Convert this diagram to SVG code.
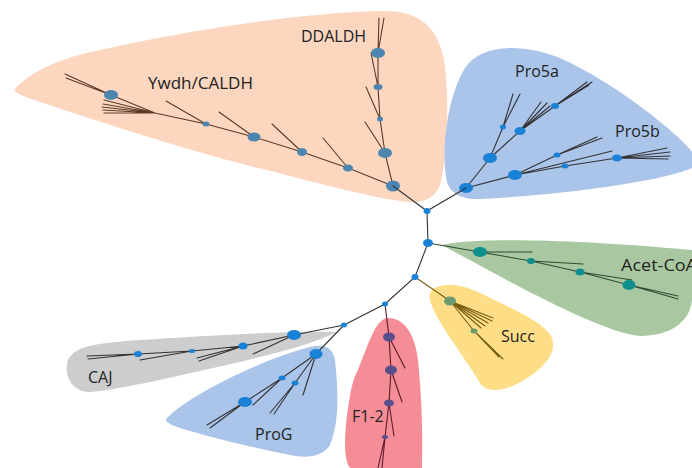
<svg xmlns="http://www.w3.org/2000/svg" width="692" height="468" viewBox="0 0 692 468">
<style>
text{font-family:"Open Sans","Liberation Sans",sans-serif;font-size:16px;fill:#222}
.br{fill:none;stroke:#333;stroke-width:1.1;stroke-linecap:round}
.bo{stroke:#5b3a28}
.by{stroke:#7a5c12}
.bg{stroke:#2e4a34}
.bred{stroke:#5e1a2a}
.nb{fill:#1a82d6}
.no{fill:#4a86b0}
.nt{fill:#0f8e8e}
.ns{fill:#6b9a72}
.np{fill:#574f8c}
</style>
<rect width="692" height="468" fill="#fff"/>
<g id="clade-ywdh-ddaldh">
<path d="M15 89 C30 72 60 58 100 50 C180 32 300 12 385 11 C420 11 438 28 444 60 C450 100 447 160 440 185 C435 198 425 203 408 202 C370 198 320 183 250 166 C180 148 100 122 40 102 C22 96 12 92 15 89 Z" fill="#fcd6bf"/>
<path class="br bo" d="M393 186 L348 168 L302 152 L254 137 L206 124 L155 113 L111 95 L65 74 M111 95 L66 78 M155 113 L104 100 M155 113 L103 104 M155 113 L102 107 M155 113 L103 110 M155 113 L104 113 M348 168 L323 138 M302 152 L272 124 M254 137 L219 112 M206 124 L166 101 M393 186 L385 153 L380 119 L378 87 L378 53 L379 18 M378 53 L384 18 M385 153 L365 122 M380 119 L366 87 M378 87 L371 53"/>
<ellipse class="no" cx="393" cy="186" rx="7" ry="5.5"/>
<ellipse class="no" cx="348" cy="168" rx="5" ry="3.5"/>
<ellipse class="no" cx="302" cy="152" rx="5" ry="4"/>
<ellipse class="no" cx="254" cy="137" rx="6.5" ry="4.5"/>
<ellipse class="no" cx="206" cy="124" rx="3.5" ry="2.5"/>
<ellipse class="no" cx="111" cy="95" rx="7" ry="5"/>
<ellipse class="no" cx="385" cy="153" rx="7" ry="5"/>
<ellipse class="no" cx="380" cy="119" rx="3" ry="2.5"/>
<ellipse class="no" cx="378" cy="87" rx="4.5" ry="3"/>
<ellipse class="no" cx="378" cy="53" rx="7" ry="5"/>
<text x="301" y="42">DDALDH</text>
<text x="148" y="89" textLength="105" lengthAdjust="spacingAndGlyphs">Ywdh/CALDH</text>
</g>
<g id="clade-pro5">
<path d="M447 182 C440 150 448 95 465 68 C480 45 520 42 560 58 C610 80 675 130 692 152 L692 168 C660 182 560 195 480 199 C460 200 450 192 447 182 Z" fill="#abc4e9"/>
<path class="br" d="M466 188 L490 158 L503 127 L513 94 M503 127 L520 94 M490 158 L520 131 L541 102 M520 131 L547 103 M520 131 L550 106 M520 131 L555 106 L587 82 M555 106 L592 82 M555 106 L589 85 M466 188 L515 175 L557 155 L597 137 M557 155 L602 138 M515 175 L612 151 M515 175 L565 166 L617 158 L667 148 M617 158 L670 152 M617 158 L670 156 M617 158 L668 159"/>
<ellipse class="nb" cx="466" cy="188" rx="7" ry="5"/>
<ellipse class="nb" cx="490" cy="158" rx="7" ry="5"/>
<ellipse class="nb" cx="503" cy="127" rx="3" ry="2.5"/>
<ellipse class="nb" cx="520" cy="131" rx="5.5" ry="4"/>
<ellipse class="nb" cx="555" cy="106" rx="4" ry="3"/>
<ellipse class="nb" cx="515" cy="175" rx="7" ry="5"/>
<ellipse class="nb" cx="557" cy="155" rx="3.5" ry="2.5"/>
<ellipse class="nb" cx="565" cy="166" rx="3.5" ry="2.5"/>
<ellipse class="nb" cx="617" cy="158" rx="5" ry="3.5"/>
<text x="515" y="77">Pro5a</text>
<text x="615" y="137">Pro5b</text>
</g>
<g id="clade-acet-coa">
<path d="M442 245 C470 238 560 238 692 250 L692 300 C690 322 670 336 640 336 C600 332 510 282 442 245 Z" fill="#a9c8a1"/>
<path class="br bg" d="M428 243 L480 252 L531 261 L580 272 L629 285 L678 296 M629 285 L678 299 M480 252 L532 252 M531 261 L583 264 M580 272 L632 280"/>
<ellipse class="nt" cx="480" cy="252" rx="7" ry="5"/>
<ellipse class="nt" cx="531" cy="261" rx="4" ry="3"/>
<ellipse class="nt" cx="580" cy="272" rx="4.5" ry="3.5"/>
<ellipse class="nt" cx="629" cy="285" rx="6.5" ry="5"/>
<text x="621" y="271" textLength="76" lengthAdjust="spacingAndGlyphs">Acet-CoA</text>
</g>
<g id="clade-succ">
<path d="M432 290 C440 283 460 283 480 293 C510 308 545 322 552 338 C558 355 540 372 515 385 C500 392 485 392 480 383 C460 350 435 320 430 300 C429 295 430 292 432 290 Z" fill="#fddd86"/>
<path class="br by" d="M415 277 L450 301 L493 318 M450 301 L492 321 M450 301 L488 323 M450 301 L485 326 M450 301 L481 328 M450 301 L474 331 L499 357 M474 331 L503 359"/>
<ellipse class="ns" cx="450" cy="301" rx="6" ry="4.5"/>
<ellipse class="ns" cx="474" cy="331" rx="3.5" ry="2.5"/>
<text x="501" y="342">Succ</text>
</g>
<g id="clade-f1-2">
<path d="M388 318 C405 318 415 335 418 360 C422 400 423 440 422 468 L350 468 C344 460 344 440 347 415 C350 395 352 380 358 370 C368 345 376 318 388 318 Z" fill="#f48d96"/>
<path class="br bred" d="M385 304 L389 337 L391 370 L389 403 L385 437 L378 468 M385 437 L382 468 M389 337 L405 368 M391 370 L402 402 M389 403 L394 436"/>
<ellipse class="np" cx="389" cy="337" rx="6" ry="4.5"/>
<ellipse class="np" cx="391" cy="370" rx="6" ry="4.5"/>
<ellipse class="np" cx="389" cy="403" rx="5" ry="3.5"/>
<ellipse class="np" cx="385" cy="437" rx="3" ry="2"/>
<text x="352" y="422">F1-2</text>
</g>
<g id="clade-caj">
<path d="M68 360 C75 345 100 343 140 340 C200 336 280 331 337 332 C310 345 280 352 240 362 C180 375 120 390 90 392 C72 392 63 375 68 360 Z" fill="#cdcdcd"/>
<path class="br" d="M344 325 L294 335 L243 346 L192 351 L138 354 L87 356 M138 354 L88 359 M294 335 L253 354 M243 346 L197 358 M243 346 L199 361 M192 351 L140 360"/>
<ellipse class="nb" cx="294" cy="335" rx="7" ry="5"/>
<ellipse class="nb" cx="243" cy="346" rx="4.5" ry="3.5"/>
<ellipse class="nb" cx="192" cy="351" rx="3" ry="2"/>
<ellipse class="nb" cx="138" cy="354" rx="4" ry="3"/>
<text x="88" y="383">CAJ</text>
</g>
<g id="clade-prog">
<path d="M168 417 C190 395 260 360 310 347 C325 343 333 348 335 360 C338 390 340 420 330 445 C322 458 305 458 290 455 C240 445 190 432 172 425 C165 422 165 419 168 417 Z" fill="#abc4e9"/>
<path class="br" d="M344 325 L316 354 L282 378 L245 402 L207 425 M245 402 L210 428 M282 378 L253 405 M316 354 L295 383 L270 413 M295 383 L274 414 M316 354 L303 395"/>
<ellipse class="nb" cx="316" cy="354" rx="6.5" ry="5"/>
<ellipse class="nb" cx="282" cy="378" rx="3.5" ry="2.5"/>
<ellipse class="nb" cx="245" cy="402" rx="7" ry="5"/>
<ellipse class="nb" cx="295" cy="383" rx="3.5" ry="2.5"/>
<text x="255" y="440">ProG</text>
</g>
<g id="connectors">
<path class="br" d="M393 186 L427 211 L466 188 M427 211 L428 243 L415 277 L385 304 L344 325"/>
<ellipse class="nb" cx="427" cy="211" rx="3.5" ry="3"/>
<ellipse class="nb" cx="428" cy="243" rx="5" ry="4"/>
<ellipse class="nb" cx="415" cy="277" rx="3.5" ry="3"/>
<ellipse class="nb" cx="385" cy="304" rx="3" ry="2.5"/>
<ellipse class="nb" cx="344" cy="325" rx="3" ry="2.5"/>
</g>
</svg>
